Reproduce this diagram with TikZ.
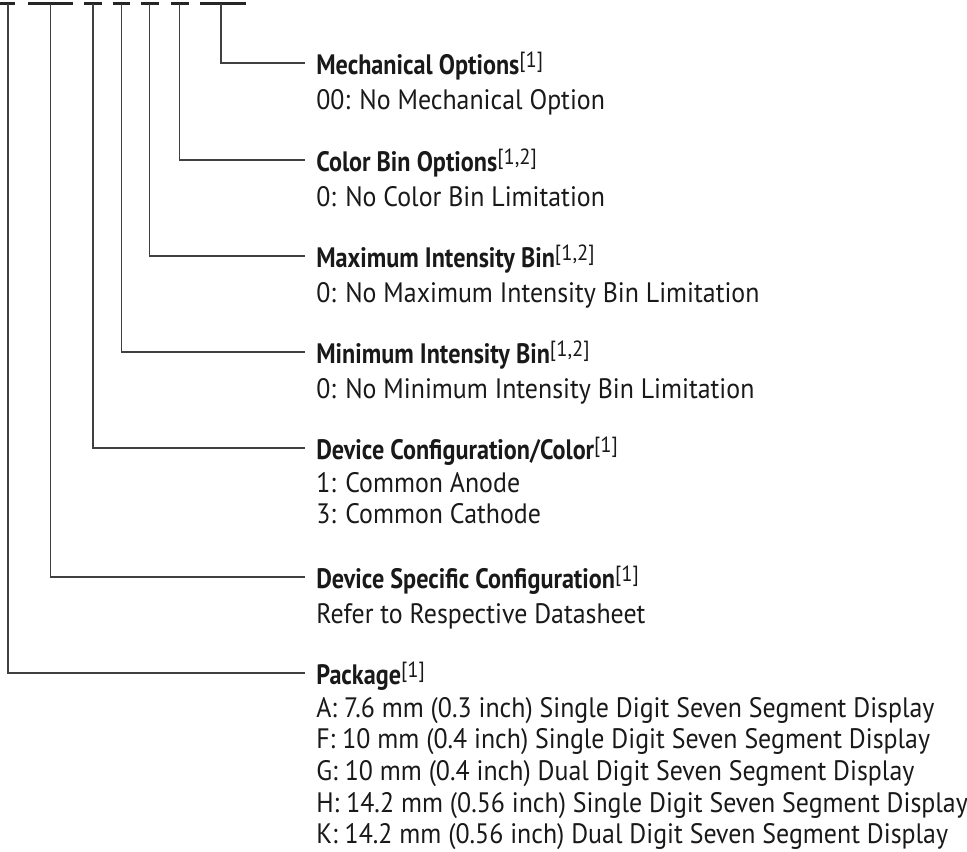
\documentclass[tikz,border=0pt]{standalone}
\usepackage{fontspec}
\setmainfont{PT Sans}
\usepackage{tikz}
\usetikzlibrary{positioning}

\newcommand\headfont{\fontsize{16}{17.97}\selectfont\bfseries\addfontfeatures{FakeStretch=0.86}}
\newcommand\descfont{\fontsize{16}{17.97}\selectfont\addfontfeatures{FakeStretch=0.92}}
\newcommand\noteref[1]{{\mdseries\addfontfeatures{FakeStretch=0.94}\raisebox{4pt}{\fontsize{12.5}{12.5}\selectfont[#1]}}}

\begin{document}
\begin{tikzpicture}[
        x=0.02cm, y=-0.02cm,
        bar/.style={line width=1.5pt, black!85},
        link/.style={line width=0.65pt, black!75},
        title/.style={anchor=west, inner xsep=0.22cm, inner ysep=0pt, text height=13.6pt, text depth=0pt, font=\headfont, text=black!90},
        desc/.style={inner xsep=0.22cm, inner ysep=0pt, align=left, font=\descfont, text=black!90, execute at begin node=\strut}
    ]
        \useasboundingbox (0,0) rectangle (967,852);

        \draw[bar] (0,3.5) -- (15,3.5);
        \draw[bar] (28,3.5) -- (73,3.5);
        \draw[bar] (84,3.5) -- (102,3.5);
        \draw[bar] (113,3.5) -- (130,3.5);
        \draw[bar] (141,3.5) -- (159,3.5);
        \draw[bar] (171,3.5) -- (189,3.5);
        \draw[bar] (200,3.5) -- (246,3.5);

        \coordinate (b1) at (8,3.5);
        \coordinate (b2) at (50.5,3.5);
        \coordinate (b3) at (93,3.5);
        \coordinate (b4) at (121.5,3.5);
        \coordinate (b5) at (149.5,3.5);
        \coordinate (b6) at (179.5,3.5);
        \coordinate (b7) at (221,3.5);

        \node[title] (mo) at (305,63) {Mechanical Options\noteref{1}};
        \node[desc, below right=0.24cm and 0cm of mo.base west] (mod) {00: No Mechanical Option};

        \node[title] (cb) at (305,160) {Color Bin Options\noteref{1,2}};
        \node[desc, below right=0.24cm and 0cm of cb.base west] (cbd) {0: No Color Bin Limitation};

        \node[title] (xb) at (305,256) {Maximum Intensity Bin\noteref{1,2}};
        \node[desc, below right=0.24cm and 0cm of xb.base west] (xbd) {0: No Maximum Intensity Bin Limitation};

        \node[title] (nb) at (305,352) {Minimum Intensity Bin\noteref{1,2}};
        \node[desc, below right=0.24cm and 0cm of nb.base west] (nbd) {0: No Minimum Intensity Bin Limitation};

        \node[title] (dc) at (305,448) {Device Configuration/Color\noteref{1}};
        \node[desc, below right=0.24cm and 0cm of dc.base west] (dcd) {1: Common Anode\\3: Common Cathode};

        \node[title] (ds) at (305,577) {Device Specific Configuration\noteref{1}};
        \node[desc, below right=0.24cm and 0cm of ds.base west] (dsd) {Refer to Respective Datasheet};

        \node[title] (pk) at (305,673) {Package\noteref{1}};
        \node[desc, below right=0.24cm and 0cm of pk.base west] (pkd) {A: 7.6 mm (0.3 inch) Single Digit Seven Segment Display\\
            F: 10 mm (0.4 inch) Single Digit Seven Segment Display\\
            G: 10 mm (0.4 inch) Dual Digit Seven Segment Display\\
            H: 14.2 mm (0.56 inch) Single Digit Seven Segment Display\\
            K: 14.2 mm (0.56 inch) Dual Digit Seven Segment Display};

        \draw[link] (b7) |- (mo.west);
        \draw[link] (b6) |- (cb.west);
        \draw[link] (b5) |- (xb.west);
        \draw[link] (b4) |- (nb.west);
        \draw[link] (b3) |- (dc.west);
        \draw[link] (b2) |- (ds.west);
        \draw[link] (b1) |- (pk.west);
    \end{tikzpicture}
\end{document}
